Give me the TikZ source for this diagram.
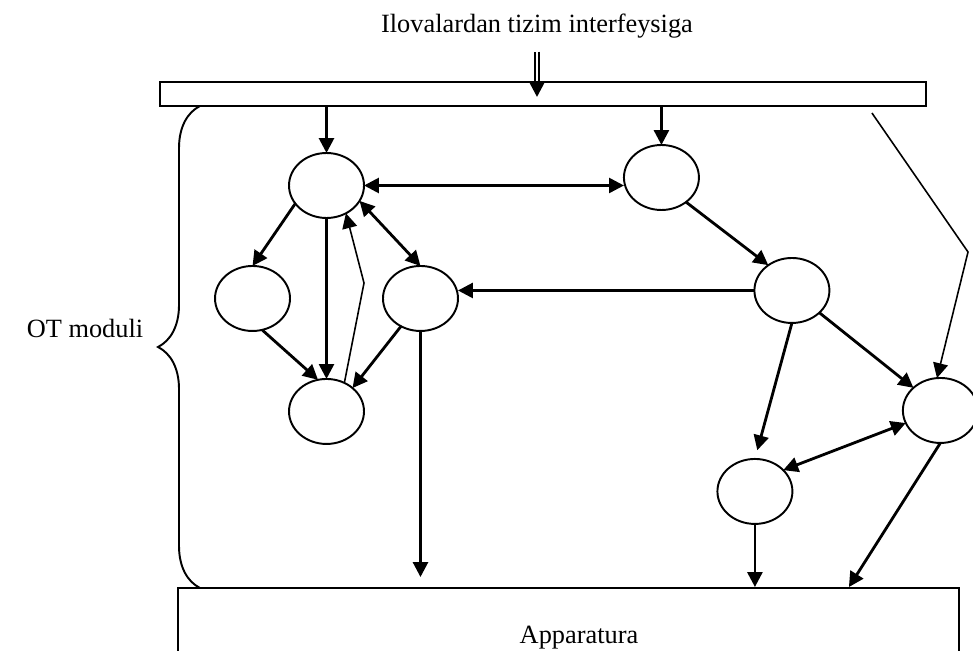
\documentclass[tikz,border=0pt]{standalone}
\usepackage{fontspec}
\setmainfont{Liberation Serif}
\usetikzlibrary{shapes.geometric, arrows.meta, positioning, decorations.pathreplacing}
\tikzstyle{busbar} = [rectangle, draw, line width=1.1pt, minimum width=15.32cm, minimum height=0.48cm]
\tikzstyle{module} = [ellipse, draw, line width=1.1pt, minimum width=1.5cm, minimum height=1.3cm, inner sep=0pt, outer sep=0pt]
\tikzstyle{hardware} = [rectangle, draw, line width=1.1pt, minimum width=15.62cm, minimum height=2cm]
\tikzstyle{call} = [line width=1.6pt, -{Triangle[length=8.5pt, width=8.5pt]}]
\tikzstyle{twoway} = [line width=1.6pt, {Triangle[length=8.5pt, width=8.5pt]}-{Triangle[length=8.5pt, width=8.5pt]}]
\tikzstyle{bent} = [line width=0.9pt, -{Triangle[length=8.5pt, width=8.5pt]}]
\tikzstyle{feed} = [double, line width=0.7pt, double distance=1.5pt]
\begin{document}
\begin{tikzpicture}[x=0.02cm, y=-0.02cm, font=\fontsize{15}{18}\selectfont]
  \useasboundingbox (0,0) rectangle (973,651);
  \node (iface) [busbar] at (543,94) {};
  \node (title) [above=0.73cm of iface, xshift=-0.12cm] {Ilovalardan tizim interfeysiga};
  \node (m1) [module] at (326.5,185.5) {};
  \node (m2) [module, right=5.2cm of m1, yshift=0.16cm] {};
  \node (m3) [module, below=0.96cm of m1, xshift=-1.48cm] {};
  \node (m4) [module, below=0.96cm of m1, xshift=1.88cm] {};
  \node (m5) [module, below=3.22cm of m1] {};
  \node (m6) [module, below=0.96cm of m2, xshift=2.61cm] {};
  \node (m7) [module, below=1.1cm of m6, xshift=2.97cm] {};
  \node (m8) [module, below=2.72cm of m6, xshift=-0.74cm] {};
  \node (hw) [hardware] at (568.5,638) {};
  \node (hwname) at ([xshift=0.21cm]hw.center) {Apparatura};
  \node (otname) at (85,328) {OT moduli};
  \coordinate (kink) at (364,283);
  \coordinate (elbow) at (968,252);
  \coordinate (tap) at ([xshift=-1.1cm, yshift=-0.12cm]iface.south east);
  \draw [line width=1.1pt, decorate, decoration={brace, amplitude=0.84cm}] (200,588) -- (200,106);
  % input from applications
  \draw [feed, shorten <=0.14cm] (title) -- (title |- iface.north);
  \draw [call, shorten >=-0.06cm] (title |- iface.north) -- (title |- iface.center);
  \draw [call] (iface.south -| m1) -- (m1);
  \draw [call] (iface.south -| m2) -- (m2);
  \draw [twoway] (m1.east) -- (m1.east -| m2.west);
  \draw [call] (m1.210) -- (m3.north);
  \draw [twoway] (m1.335) -- (m4.north);
  \draw [call] (m1) -- (m5);
  \draw [bent] (m5.58) -- (kink) -- (m1.305);
  \draw [call] (m3.287) -- (m5.105);
  \draw [call] (m4.235) -- (m5.42);
  \draw [call, shorten >=0.2cm] (m4) -- (m4 |- hw.north);
  \draw [call] (m2.315) -- (m6.133);
  \draw [call] (m6.west) -- (m6.west -| m4.east);
  \draw [call] (m6.321) -- (m7.140);
  \draw [call, shorten >=0.18cm] (m6.south) -- (m8.north);
  \draw [twoway] (m8.37) -- (m7.200);
  \draw [call] (m8) -- (m8 |- hw.north);
  \draw [call] (m7.south) -- ([xshift=-2.22cm]hw.north east);
  \draw [bent] (tap) -- (elbow) -- (m7.96);
\end{tikzpicture}
\end{document}
